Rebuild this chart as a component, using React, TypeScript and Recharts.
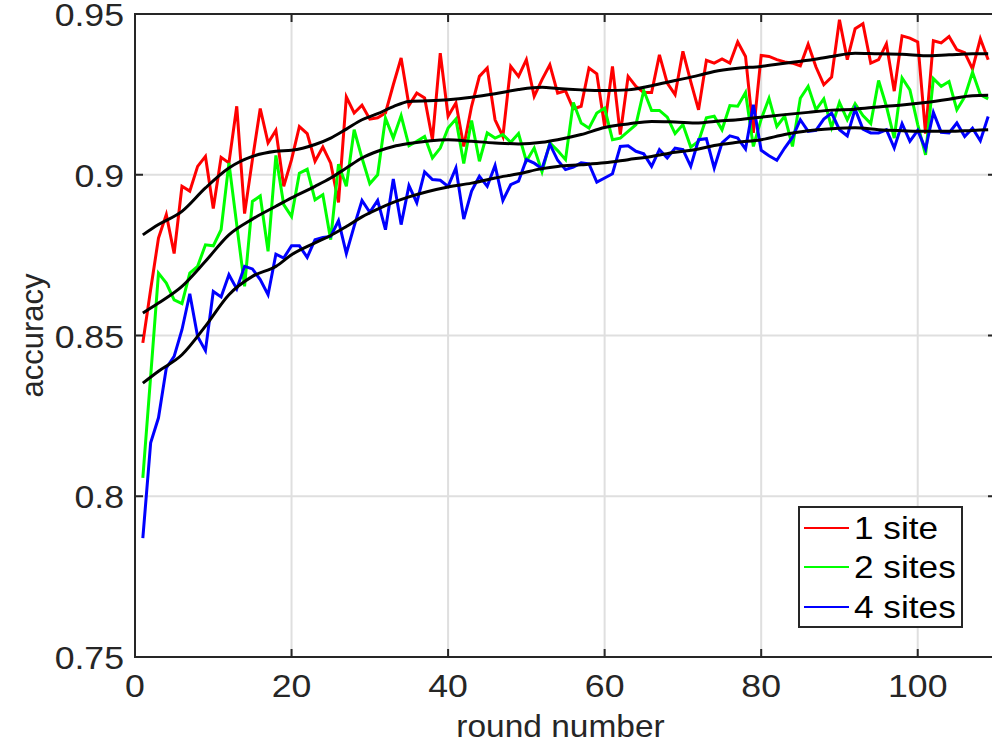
import React from "react";
import {
  LineChart,
  Line,
  XAxis,
  YAxis,
  CartesianGrid,
  ReferenceArea,
  Label,
} from "recharts";

// rounds 1..109
const rounds = Array.from({ length: 109 }, (_, i) => i + 1);

const oneSite = [
  0.8477, 0.8643, 0.8803, 0.8876, 0.8755, 0.8964, 0.8949, 0.9026, 0.9057, 0.8895,
  0.9054, 0.9037, 0.9213, 0.8879, 0.9047, 0.9206, 0.9099, 0.9138, 0.8964, 0.9047,
  0.915, 0.9128, 0.9042, 0.9086, 0.9036, 0.8914, 0.9242, 0.9192, 0.9216, 0.9173,
  0.9177, 0.9192, 0.928, 0.9363, 0.9216, 0.9254, 0.9239, 0.9109, 0.9378, 0.9182,
  0.9223, 0.9088, 0.9213, 0.9306, 0.9332, 0.9171, 0.9119, 0.9337, 0.9306, 0.9358,
  0.9244, 0.9296, 0.9342, 0.9254, 0.9261, 0.9205, 0.9213, 0.9332, 0.9314, 0.915,
  0.9337, 0.9125, 0.9306, 0.9275, 0.9256, 0.9256, 0.9373, 0.9285, 0.9249, 0.9384,
  0.929, 0.9202, 0.9356, 0.9347, 0.936, 0.9347, 0.9413, 0.9368, 0.913, 0.9371,
  0.9368, 0.9358, 0.9351, 0.9347, 0.9339, 0.9406, 0.9335, 0.928, 0.9304, 0.9482,
  0.9358, 0.9454, 0.947, 0.9347, 0.9358, 0.9407, 0.926, 0.9432, 0.9425, 0.9413,
  0.9128, 0.9417, 0.941, 0.943, 0.9389, 0.938, 0.9329, 0.9423, 0.9358,
];

const twoSites = [
  0.8057, 0.8373, 0.8694, 0.8663, 0.8611, 0.8599, 0.8694, 0.8715, 0.8782, 0.8779,
  0.8829, 0.9037, 0.8844, 0.8653, 0.8917, 0.8934, 0.8762, 0.906, 0.8907, 0.887,
  0.9005, 0.9017, 0.8922, 0.8938, 0.8798, 0.9033, 0.8964, 0.914, 0.9052, 0.8972,
  0.9, 0.9176, 0.9114, 0.9184, 0.909, 0.9104, 0.9119, 0.9052, 0.9083, 0.9145,
  0.9173, 0.9035, 0.9169, 0.9042, 0.913, 0.9114, 0.9125, 0.9101, 0.9128, 0.9042,
  0.9083, 0.9009, 0.9099, 0.9075, 0.9047, 0.9225, 0.9161, 0.9145, 0.9192, 0.9207,
  0.9109, 0.9114, 0.9135, 0.9156, 0.9262, 0.92, 0.92, 0.9179, 0.9128, 0.9156,
  0.9086, 0.9104, 0.9177, 0.9182, 0.914, 0.9215, 0.9213, 0.9256, 0.9088, 0.9173,
  0.9238, 0.915, 0.9182, 0.9088, 0.9238, 0.9275, 0.9202, 0.9236, 0.9147, 0.9225,
  0.9171, 0.9221, 0.9184, 0.9159, 0.9293, 0.9213, 0.9114, 0.9301, 0.9264, 0.9156,
  0.9062, 0.9299, 0.9275, 0.929, 0.9202, 0.9242, 0.9319, 0.9249, 0.9236,
];

const fourSites = [
  0.787, 0.8166, 0.8244, 0.8399, 0.8435, 0.8518, 0.863, 0.8497, 0.8453, 0.8637,
  0.862, 0.8689, 0.8645, 0.8715, 0.8707, 0.8674, 0.8627, 0.8753, 0.8741, 0.8779,
  0.8779, 0.8743, 0.8798, 0.8805, 0.8808, 0.8857, 0.8755, 0.884, 0.892, 0.8883,
  0.892, 0.8829, 0.8987, 0.8845, 0.8966, 0.8913, 0.9009, 0.8985, 0.8983, 0.8964,
  0.9021, 0.8862, 0.8949, 0.8995, 0.8964, 0.9029, 0.892, 0.8969, 0.898, 0.9047,
  0.9036, 0.9019, 0.9095, 0.9045, 0.9016, 0.9024, 0.9037, 0.9034, 0.8977, 0.899,
  0.9003, 0.9088, 0.909, 0.9073, 0.9065, 0.9026, 0.9078, 0.9052, 0.9083, 0.9078,
  0.9026, 0.9109, 0.9112, 0.9021, 0.9099, 0.9121, 0.9114, 0.908, 0.9218, 0.9076,
  0.9059, 0.9045, 0.9083, 0.9117, 0.9171, 0.9135, 0.9138, 0.9173, 0.9192, 0.914,
  0.9121, 0.9204, 0.9142, 0.913, 0.913, 0.914, 0.9083, 0.9159, 0.9104, 0.9138,
  0.908, 0.9194, 0.9132, 0.913, 0.9161, 0.9119, 0.9145, 0.9106, 0.9181,
];

// smoothed trend curves, read at these rounds
const trendRounds = [
  1, 3, 6, 9, 12, 15, 18, 20, 23, 25, 27, 29, 31, 33, 35, 40, 43, 46, 49, 52,
  54, 57, 60, 63, 66, 69, 72, 74, 77, 80, 83, 86, 89, 92, 95, 98, 101, 104, 107, 109,
];
const trendOne = [
  0.8813, 0.8845, 0.8886, 0.8959, 0.9021, 0.9057, 0.9073, 0.9076, 0.9094, 0.9114,
  0.9142, 0.9171, 0.919, 0.9212, 0.9228, 0.9233, 0.9241, 0.9252, 0.9265, 0.9272,
  0.9268, 0.9264, 0.9262, 0.9264, 0.9277, 0.9293, 0.9309, 0.9321, 0.9331, 0.9337,
  0.9347, 0.9356, 0.9368, 0.9378, 0.9376, 0.9375, 0.937, 0.9373, 0.9376, 0.9376,
];
const trendTwo = [
  0.857, 0.8601, 0.8653, 0.8731, 0.8813, 0.8862, 0.8902, 0.8928, 0.8964, 0.899,
  0.9021, 0.9052, 0.9073, 0.9088, 0.9097, 0.9109, 0.9104, 0.9099, 0.9096, 0.9101,
  0.9109, 0.9125, 0.9147, 0.9158, 0.9166, 0.9164, 0.9161, 0.9166, 0.9171, 0.9179,
  0.9187, 0.9194, 0.9201, 0.9204, 0.9211, 0.9217, 0.9225, 0.9235, 0.9246, 0.9247,
];
const trendFour = [
  0.8352, 0.8389, 0.844, 0.8529, 0.8627, 0.8684, 0.8715, 0.8751, 0.8788, 0.8811,
  0.8839, 0.8869, 0.8893, 0.8914, 0.8931, 0.8962, 0.8974, 0.899, 0.9003, 0.9019,
  0.9026, 0.9031, 0.9037, 0.9047, 0.9057, 0.907, 0.908, 0.9091, 0.9101, 0.9109,
  0.9125, 0.9137, 0.9143, 0.9146, 0.914, 0.9137, 0.9135, 0.9135, 0.9138, 0.914,
];

const xTicks = [0, 20, 40, 60, 80, 100];
const yTicks = [0.75, 0.8, 0.85, 0.9, 0.95];

const series = [
  { key: "one", name: "1 site", color: "#ff0000" },
  { key: "two", name: "2 sites", color: "#00ff00" },
  { key: "four", name: "4 sites", color: "#0000ff" },
];

const data = rounds.map((r, i) => ({
  round: r,
  one: oneSite[i],
  two: twoSites[i],
  four: fourSites[i],
}));

const trendData = trendRounds.map((r, i) => ({
  round: r,
  one: trendOne[i],
  two: trendTwo[i],
  four: trendFour[i],
}));

const W = 1000;
const H = 745;
const MARGIN = { top: 14, right: 4, bottom: 0, left: 0 };
const X_AXIS_H = 88;
const Y_AXIS_W = 135;
const FONT = "'Liberation Sans', Arial, Helvetica, sans-serif";
const AX = "#262626";
const TICK_LEN = 8;
const X_TICK_GAP = 18;
const Y_TICK_GAP = 11;
// the reference glyphs are a little wider than Arial
const STRETCH = 1.15;

const plotLeft = MARGIN.left + Y_AXIS_W;
const plotRight = W - MARGIN.right;
const plotTop = MARGIN.top;

function XTick(props: any) {
  const { x, y, payload } = props;
  const axisY = y - X_TICK_GAP;
  return (
    <g>
      <line x1={x} x2={x} y1={axisY} y2={axisY - TICK_LEN} stroke={AX} strokeWidth={2} />
      <line x1={x} x2={x} y1={plotTop} y2={plotTop + TICK_LEN} stroke={AX} strokeWidth={2} />
      <text
        transform={`translate(${x} ${y}) scale(${STRETCH} 1)`}
        dy="0.71em"
        textAnchor="middle"
        fill={AX}
        fontSize={31}
        fontFamily={FONT}
      >
        {payload.value}
      </text>
    </g>
  );
}

function YTick(props: any) {
  const { x, y, payload } = props;
  return (
    <g>
      <line x1={plotLeft} x2={plotLeft + TICK_LEN} y1={y} y2={y} stroke={AX} strokeWidth={2} />
      <line x1={plotRight} x2={plotRight - TICK_LEN} y1={y} y2={y} stroke={AX} strokeWidth={2} />
      <text
        transform={`translate(${x} ${y + 1}) scale(${STRETCH} 1)`}
        dy="0.355em"
        textAnchor="end"
        fill={AX}
        fontSize={31}
        fontFamily={FONT}
      >
        {payload.value}
      </text>
    </g>
  );
}

function ChartLegend() {
  return (
    <div
      style={{
        position: "absolute",
        left: 798,
        top: 506,
        width: 161,
        height: 118,
        border: `2px solid ${AX}`,
        background: "#fff",
        fontFamily: FONT,
        fontSize: 32,
        color: "#000",
      }}
    >
      {series.map((s, i) => (
        <div
          key={s.key}
          style={{
            position: "absolute",
            left: 0,
            top: i * 39.5,
            height: 39.5,
            display: "flex",
            alignItems: "center",
            whiteSpace: "nowrap",
          }}
        >
          <span
            style={{
              display: "inline-block",
              marginLeft: 4,
              width: 45,
              height: 2,
              background: s.color,
            }}
          />
          <span
            style={{
              marginLeft: 5,
              lineHeight: "32px",
              display: "inline-block",
              transform: "scaleX(1.1)",
              transformOrigin: "left center",
            }}
          >
            {s.name}
          </span>
        </div>
      ))}
    </div>
  );
}

export default function App() {
  return (
    <div
      style={{
        position: "absolute",
        left: 0,
        top: 0,
        width: 992,
        height: 745,
        overflow: "hidden",
        background: "#fff",
      }}
    >
      <LineChart width={W} height={H} data={data} margin={MARGIN}>
        <CartesianGrid stroke="#dfdfdf" strokeWidth={2} />
        <XAxis
          dataKey="round"
          type="number"
          domain={[0, 110]}
          ticks={xTicks}
          allowDataOverflow
          axisLine={false}
          tickLine={false}
          tickSize={0}
          tickMargin={X_TICK_GAP}
          tick={<XTick />}
          interval={0}
          height={X_AXIS_H}
        >
          <Label
            content={() => (
              <text
                transform={`translate(${(plotLeft + plotRight) / 2 - 5} 737) scale(1.08 1)`}
                textAnchor="middle"
                fill={AX}
                fontSize={31}
                fontFamily={FONT}
              >
                round number
              </text>
            )}
          />
        </XAxis>
        <YAxis
          type="number"
          domain={[0.75, 0.95]}
          ticks={yTicks}
          allowDataOverflow
          axisLine={false}
          tickLine={false}
          tickSize={0}
          tickMargin={Y_TICK_GAP}
          tick={<YTick />}
          interval={0}
          width={Y_AXIS_W}
        >
          <Label
            content={(p: any) => {
              const vb = p.viewBox || {};
              const cy = (vb.y ?? plotTop) + (vb.height ?? 643) / 2;
              return (
                <text
                  x={43}
                  y={cy}
                  transform={`rotate(-90 43 ${cy})`}
                  textAnchor="middle"
                  fill={AX}
                  fontSize={31}
                  fontFamily={FONT}
                >
                  accuracy
                </text>
              );
            }}
          />
        </YAxis>
        {series.map((s) => (
          <Line
            key={s.key}
            type="linear"
            dataKey={s.key}
            name={s.name}
            stroke={s.color}
            strokeWidth={3}
            dot={false}
            activeDot={false}
            isAnimationActive={false}
          />
        ))}
        {series.map((s) => (
          <Line
            key={"trend-" + s.key}
            data={trendData}
            type="monotone"
            dataKey={s.key}
            stroke="#000"
            strokeWidth={3}
            dot={false}
            activeDot={false}
            legendType="none"
            isAnimationActive={false}
          />
        ))}
        <ReferenceArea
          x1={0}
          x2={110}
          y1={0.75}
          y2={0.95}
          fill="none"
          fillOpacity={0}
          stroke={AX}
          strokeWidth={2}
          ifOverflow="visible"
        />
      </LineChart>
      <ChartLegend />
    </div>
  );
}
